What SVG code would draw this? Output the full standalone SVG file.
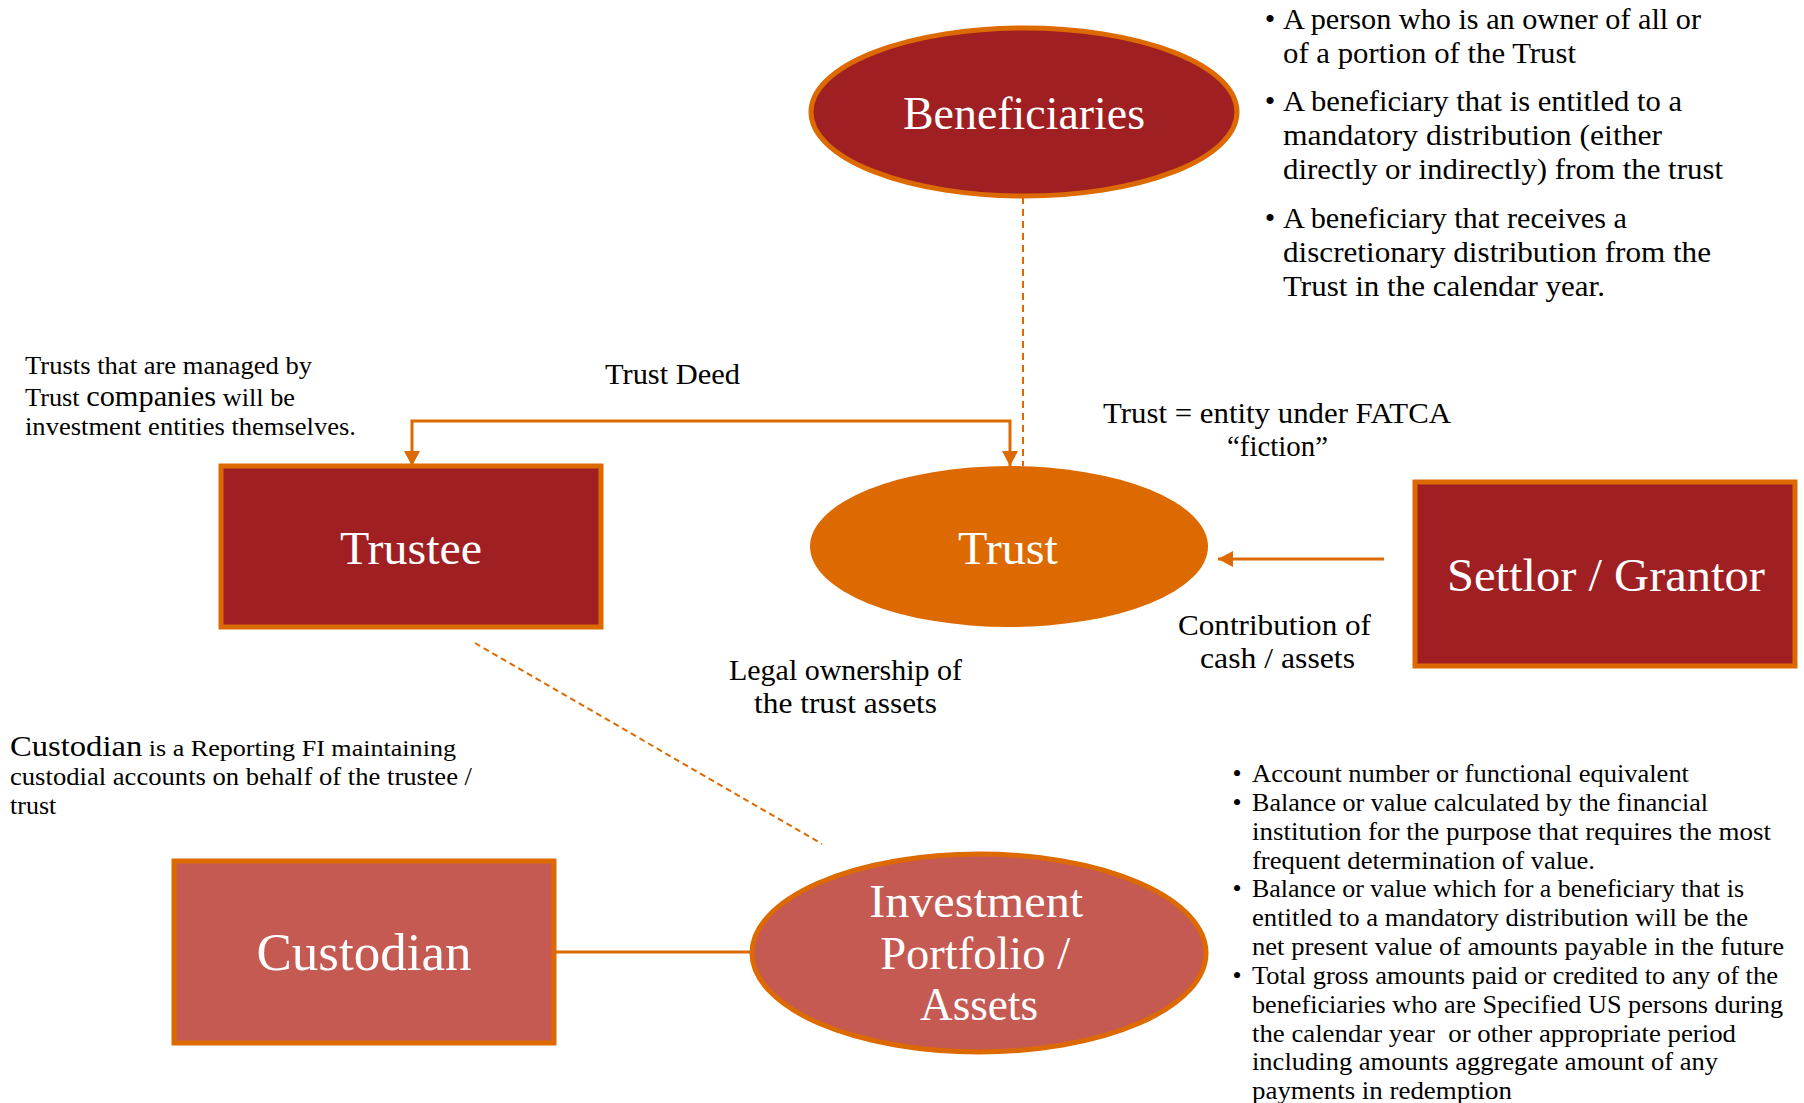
<svg xmlns="http://www.w3.org/2000/svg" width="1804" height="1103" viewBox="0 0 1804 1103">
  <style>
    text { font-family: "Liberation Serif", "Times New Roman", serif; fill: #000; }
    .head { fill: #fff; text-anchor: middle; }
    .dark { fill: #A01F22; stroke: #DD6A00; stroke-width: 5; }
    .trust { fill: #DD6A00; }
    .soft { fill: #C55A53; stroke: #DD6A00; stroke-width: 5; }
    .link { fill: none; stroke: #DD6A00; stroke-width: 3; }
    .dash { fill: none; stroke: #DD6A00; stroke-width: 2; stroke-dasharray: 7 5; }
    .dash2 { fill: none; stroke: #DD6A00; stroke-width: 2; stroke-dasharray: 6 4; }
    .lbl { font-size: 30px; }
    .mid { text-anchor: middle; }
    .b1 { font-size: 30px; }
    .b2 { font-size: 26px; }
    .note { font-size: 26px; }
  </style>
  <defs>
    <marker id="arrow" markerUnits="userSpaceOnUse" markerWidth="16" markerHeight="16" viewBox="0 0 16 16" refX="15" refY="8" orient="auto-start-reverse">
      <path d="M0,0 L15,8 L0,16 Z" fill="#DD6A00"/>
    </marker>
  </defs>

  <!-- connectors -->
  <g id="connectors">
    <line class="dash" x1="1023" y1="197" x2="1023" y2="466"/>
    <path class="link" d="M412,466 V421 H1010 V466" marker-start="url(#arrow)" marker-end="url(#arrow)"/>
    <path class="link" d="M1384,559 H1218" marker-end="url(#arrow)"/>
    <line class="dash2" x1="475" y1="643" x2="822" y2="844"/>
    <line class="link" x1="555" y1="952" x2="752" y2="952"/>
  </g>

  <!-- nodes -->
  <g id="beneficiaries">
    <ellipse class="dark" cx="1024" cy="112" rx="213" ry="84"/>
    <text class="head" x="1024" y="129" font-size="46" textLength="242" lengthAdjust="spacingAndGlyphs">Beneficiaries</text>
  </g>

  <g id="trustee">
    <rect class="dark" x="221" y="466" width="380" height="161"/>
    <text class="head" x="411" y="564" font-size="46" textLength="142" lengthAdjust="spacingAndGlyphs">Trustee</text>
  </g>

  <g id="trust">
    <ellipse class="trust" cx="1009" cy="546.5" rx="199" ry="80.5"/>
    <text class="head" x="1008" y="564" font-size="46" textLength="100" lengthAdjust="spacingAndGlyphs">Trust</text>
  </g>

  <g id="settlor">
    <rect class="dark" x="1415" y="482" width="380" height="184"/>
    <text class="head" x="1606" y="591" font-size="47" textLength="318" lengthAdjust="spacingAndGlyphs">Settlor / Grantor</text>
  </g>

  <g id="custodian">
    <rect class="soft" x="174" y="861" width="380" height="182"/>
    <text class="head" x="364" y="970" font-size="53" textLength="215" lengthAdjust="spacingAndGlyphs">Custodian</text>
  </g>

  <g id="portfolio">
    <ellipse class="soft" cx="979" cy="953" rx="227" ry="99"/>
    <text class="head" font-size="47">
      <tspan x="982" y="917" textLength="214" lengthAdjust="spacingAndGlyphs">Investment</tspan>
      <tspan x="981" y="969" textLength="190" lengthAdjust="spacingAndGlyphs">Portfolio /</tspan>
      <tspan x="979" y="1020" textLength="118" lengthAdjust="spacingAndGlyphs">Assets</tspan>
    </text>
  </g>

  <!-- connector labels -->
  <g id="labels">
    <text class="lbl" x="605" y="384" textLength="135" lengthAdjust="spacingAndGlyphs">Trust Deed</text>
    <text class="lbl" x="1103" y="423" textLength="348" lengthAdjust="spacingAndGlyphs">Trust = entity under FATCA</text>
    <text class="lbl" x="1227" y="456" textLength="101" lengthAdjust="spacingAndGlyphs">“fiction”</text>
    <text class="lbl" x="1178" y="635" textLength="193" lengthAdjust="spacingAndGlyphs">Contribution of</text>
    <text class="lbl" x="1200" y="668" textLength="155" lengthAdjust="spacingAndGlyphs">cash / assets</text>
    <text class="lbl" x="729" y="680" textLength="233" lengthAdjust="spacingAndGlyphs">Legal ownership of</text>
    <text class="lbl" x="754" y="713" textLength="183" lengthAdjust="spacingAndGlyphs">the trust assets</text>
  </g>

  <!-- beneficiary definitions -->
  <g id="beneficiary-notes" class="b1">
    <text class="mid" x="1270" y="29">•</text>
    <text class="mid" x="1270" y="111">•</text>
    <text class="mid" x="1270" y="228">•</text>
    <text x="1283" y="29" textLength="418" lengthAdjust="spacingAndGlyphs">A person who is an owner of all or</text>
    <text x="1283" y="63" textLength="293" lengthAdjust="spacingAndGlyphs">of a portion of the Trust</text>
    <text x="1283" y="111" textLength="399" lengthAdjust="spacingAndGlyphs">A beneficiary that is entitled to a</text>
    <text x="1283" y="145" textLength="379" lengthAdjust="spacingAndGlyphs">mandatory distribution (either</text>
    <text x="1283" y="179" textLength="440" lengthAdjust="spacingAndGlyphs">directly or indirectly) from the trust</text>
    <text x="1283" y="228" textLength="344" lengthAdjust="spacingAndGlyphs">A beneficiary that receives a</text>
    <text x="1283" y="262" textLength="428" lengthAdjust="spacingAndGlyphs">discretionary distribution from the</text>
    <text x="1283" y="296" textLength="322" lengthAdjust="spacingAndGlyphs">Trust in the calendar year.</text>
  </g>

  <!-- trustee note -->
  <g id="trustee-note" class="note">
    <text x="25" y="374" textLength="287" lengthAdjust="spacingAndGlyphs">Trusts that are managed by</text>
    <text x="25" y="406" textLength="270" lengthAdjust="spacingAndGlyphs">Trust <tspan font-size="30">companies</tspan> will be</text>
    <text x="25" y="435" textLength="331" lengthAdjust="spacingAndGlyphs">investment entities themselves.</text>
  </g>

  <!-- custodian note -->
  <g id="custodian-note" class="note">
    <text x="10" y="756" textLength="446" lengthAdjust="spacingAndGlyphs"><tspan font-size="30">Custodian</tspan><tspan font-size="24"> is a Reporting FI maintaining</tspan></text>
    <text x="10" y="785" textLength="462" lengthAdjust="spacingAndGlyphs">custodial accounts on behalf of the trustee /</text>
    <text x="10" y="814">trust</text>
  </g>

  <!-- reporting items -->
  <g id="reporting-notes" class="b2">
    <text class="mid" x="1237" y="782">•</text>
    <text class="mid" x="1237" y="811">•</text>
    <text class="mid" x="1237" y="897">•</text>
    <text class="mid" x="1237" y="984">•</text>
    <text x="1252" y="782" textLength="437" lengthAdjust="spacingAndGlyphs">Account number or functional equivalent</text>
    <text x="1252" y="811" textLength="456" lengthAdjust="spacingAndGlyphs">Balance or value calculated by the financial</text>
    <text x="1252" y="840" textLength="519" lengthAdjust="spacingAndGlyphs">institution for the purpose that requires the most</text>
    <text x="1252" y="869" textLength="343" lengthAdjust="spacingAndGlyphs">frequent determination of value.</text>
    <text x="1252" y="897" textLength="492" lengthAdjust="spacingAndGlyphs">Balance or value which for a beneficiary that is</text>
    <text x="1252" y="926" textLength="496" lengthAdjust="spacingAndGlyphs">entitled to a mandatory distribution will be the</text>
    <text x="1252" y="955" textLength="532" lengthAdjust="spacingAndGlyphs">net present value of amounts payable in the future</text>
    <text x="1252" y="984" textLength="526" lengthAdjust="spacingAndGlyphs">Total gross amounts paid or credited to any of the</text>
    <text x="1252" y="1013" textLength="531" lengthAdjust="spacingAndGlyphs">beneficiaries who are Specified US persons during</text>
    <text x="1252" y="1042" textLength="484" lengthAdjust="spacingAndGlyphs" xml:space="preserve">the calendar year  or other appropriate period</text>
    <text x="1252" y="1070" textLength="466" lengthAdjust="spacingAndGlyphs">including amounts aggregate amount of any</text>
    <text x="1252" y="1099" textLength="260" lengthAdjust="spacingAndGlyphs">payments in redemption</text>
  </g>
</svg>
